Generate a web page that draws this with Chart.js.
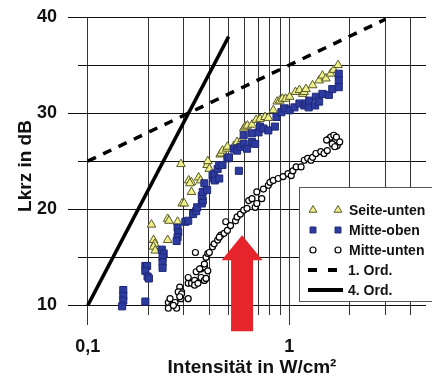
<!DOCTYPE html>
<html>
<head>
<meta charset="utf-8">
<script src="https://cdn.jsdelivr.net/npm/chart.js@4.4.1/dist/chart.umd.min.js"></script>
<style>
  html, body { margin: 0; padding: 0; background: #fff; }
  #wrap { width: 432px; height: 376px; }
</style>
</head>
<body>
<div id="wrap"><canvas id="LkrzChart" width="432" height="376"></canvas></div>
<script>
// axis ranges and ticks
var xMin = 0.0894, xMax = 4.77;
var yMin = 9, yMax = 40;
var xTickValues = [0.1, 0.2, 0.3, 0.4, 0.5, 0.6, 0.7, 0.8, 0.9, 1, 2, 3, 4];
var xTickLabels = ['0,1', '', '', '', '', '', '', '', '', '1', '', '', ''];
var yTickValues = [10, 15, 20, 25, 30, 35, 40];
var yTickLabels = ['10', '', '20', '', '30', '', '40'];

// Seite-unten (triangles)
var seiteUntenX = [0.207, 0.212, 0.215, 0.212, 0.216, 0.249, 0.253, 0.249, 0.279, 0.290, 0.294, 0.301,
    0.317, 0.327, 0.321, 0.327, 0.355, 0.363, 0.391, 0.394, 0.401, 0.454, 0.457, 0.466, 0.489, 0.493,
    0.531, 0.551, 0.583, 0.594, 0.605, 0.62, 0.653, 0.685, 0.716, 0.758, 0.787, 0.833, 0.871, 0.897,
    0.925, 0.959, 1.004, 1.073, 1.123, 1.166, 1.187, 1.210, 1.305, 1.406, 1.461, 1.52, 1.603, 1.663, 1.747];
var seiteUntenY = [18.4, 16.8, 16.4, 16.1, 15.7, 19.0, 18.8, 16.8, 18.7, 24.7, 20.6, 20.6,
    23.0, 22.8, 22.7, 21.8, 23.3, 23.0, 24.6, 25.0, 24.2, 25.7, 25.8, 26.1, 26.3, 26.5,
    26.6, 27.0, 27.3, 28.4, 28.6, 28.7, 28.8, 29.3, 29.4, 29.6, 29.5, 30.3, 31.2, 31.3,
    31.5, 31.5, 31.7, 32.2, 32.4, 32.0, 32.2, 32.5, 32.9, 33.4, 33.9, 33.6, 34.1, 34.5, 35.0];

// Mitte-oben (squares)
var mitteObenX = [0.150, 0.150, 0.150, 0.148, 0.193, 0.193, 0.197, 0.193, 0.198, 0.201, 0.233, 0.238,
    0.235, 0.235, 0.235, 0.279, 0.281, 0.279, 0.276, 0.305, 0.315, 0.333, 0.345, 0.349, 0.368, 0.372,
    0.368, 0.372, 0.391, 0.379, 0.416, 0.424, 0.427, 0.424, 0.441, 0.449, 0.449, 0.466, 0.493, 0.502,
    0.562, 0.531, 0.551, 0.572, 0.594, 0.617, 0.653, 0.677, 0.594, 0.653, 0.704, 0.716, 0.744, 0.787,
    0.848, 0.864, 0.914, 0.949, 1.004, 1.061, 1.123, 1.187, 1.210, 1.248, 1.256, 1.344, 1.355, 1.406,
    1.461, 1.572, 1.634, 1.760, 1.760, 1.760];
var mitteObenY = [11.6, 11.0, 10.5, 9.9, 10.4, 14.1, 14.1, 13.6, 13.0, 12.8, 15.8, 15.4,
    15.0, 14.5, 13.9, 18.1, 17.6, 17.1, 16.7, 18.7, 18.8, 19.5, 19.8, 20.2, 20.6, 20.9,
    21.4, 21.8, 22.0, 22.7, 23.5, 23.2, 23.0, 23.7, 24.2, 24.6, 23.2, 24.6, 25.3, 25.4,
    24.0, 26.3, 26.1, 26.5, 26.8, 26.3, 27.0, 26.8, 27.7, 27.9, 28.0, 28.6, 28.4, 28.2,
    28.6, 29.6, 30.1, 30.5, 30.3, 30.6, 31.0, 30.8, 31.0, 30.6, 31.3, 30.8, 31.7, 31.2,
    32.0, 31.9, 32.5, 34.1, 33.4, 32.7];

// Mitte-unten (open circles)
var mitteUntenX = [0.251, 0.256, 0.261, 0.251, 0.271, 0.276, 0.266, 0.286, 0.292, 0.281, 0.292, 0.290,
    0.286, 0.315, 0.315, 0.315, 0.327, 0.339, 0.339, 0.352, 0.365, 0.379, 0.345, 0.365, 0.379, 0.394,
    0.386, 0.359, 0.342, 0.386, 0.394, 0.379, 0.401, 0.416, 0.424, 0.441, 0.457, 0.449, 0.475, 0.493,
    0.484, 0.511, 0.541, 0.551, 0.572, 0.594, 0.617, 0.629, 0.653, 0.677, 0.690, 0.690, 0.730, 0.744,
    0.787, 0.802, 0.833, 0.881, 0.932, 0.986, 1.023, 1.042, 1.082, 1.144, 1.187, 1.234, 1.281, 1.305,
    1.355, 1.433, 1.487, 1.544, 1.572, 1.603, 1.663, 1.695, 1.728, 1.634, 1.714, 1.779, 1.682, 1.532];
var mitteUntenY = [10.3, 10.7, 10.0, 9.7, 10.3, 9.7, 10.0, 11.9, 11.4, 11.4, 11.2, 10.7,
    10.9, 10.7, 12.3, 12.9, 12.3, 12.6, 12.1, 12.3, 12.9, 12.6, 13.5, 13.8, 14.0, 13.6,
    12.8, 13.8, 15.5, 15.0, 15.4, 14.3, 15.5, 16.1, 16.4, 16.8, 17.3, 17.1, 17.5, 17.8,
    18.7, 18.3, 18.8, 19.2, 19.5, 19.9, 20.1, 20.9, 21.1, 20.2, 20.6, 21.8, 21.1, 22.1,
    22.5, 22.8, 23.0, 23.2, 23.4, 23.7, 23.5, 24.0, 24.4, 24.4, 25.1, 25.3, 25.1, 25.4,
    25.8, 26.0, 25.8, 26.1, 27.3, 27.5, 27.7, 27.2, 26.6, 26.8, 27.5, 27.0, 26.5, 27.2];

// reference lines: 1st order (10 dB/decade), 4th order (40 dB/decade)
var ord1X = [0.1, 3];
var ord1Y = [25, 39.77];
var ord4X = [0.1, 0.5];
var ord4Y = [10, 37.96];

// red arrow tip (data coords)
var arrowAt = [0.583, 17.3];

function toPoints(xs, ys) {
    return xs.map(function (v, i) { return { x: v, y: ys[i] }; });
}

var FONT = "'Liberation Sans', Arial, sans-serif";
var triFill = '#f0f08a', triBorder = '#5a5a2a';
var sqFill = '#2e3b9e', sqBorder = '#1e2878';

function drawMarker(ctx, style, x, y, r) {
    ctx.beginPath();
    if (style === 'triangle') {
        ctx.fillStyle = triFill; ctx.strokeStyle = triBorder; ctx.lineWidth = 1;
        ctx.moveTo(x, y - r);
        ctx.lineTo(x + r * 0.866, y + r / 2);
        ctx.lineTo(x - r * 0.866, y + r / 2);
        ctx.closePath();
    } else if (style === 'rect') {
        ctx.fillStyle = sqFill; ctx.strokeStyle = sqBorder; ctx.lineWidth = 1;
        ctx.rect(x - r * 0.707, y - r * 0.707, r * 1.414, r * 1.414);
    } else {
        ctx.fillStyle = '#fff'; ctx.strokeStyle = '#000'; ctx.lineWidth = 1.2;
        ctx.arc(x, y, r, 0, Math.PI * 2);
    }
    ctx.fill();
    ctx.stroke();
}

// Excel style legend box
var boxLegend = {
    id: 'boxLegend',
    afterDraw: function (chart) {
        var ctx = chart.ctx;
        ctx.save();
        ctx.fillStyle = '#fff';
        ctx.fillRect(299, 187, 140, 114);
        ctx.strokeStyle = '#555';
        ctx.lineWidth = 1;
        ctx.strokeRect(299.5, 187.5, 140, 114);
        var labels = ['Seite-unten', 'Mitte-oben', 'Mitte-unten', '1. Ord.', '4. Ord.'];
        var rowY = [210, 230, 250, 270, 290];
        var styles = ['triangle', 'rect', 'circle'];
        var sizes = [4.5, 4.2, 3];
        for (var i = 0; i < 3; i++) {
            drawMarker(ctx, styles[i], 313, rowY[i], sizes[i]);
            drawMarker(ctx, styles[i], 338, rowY[i], sizes[i]);
        }
        ctx.strokeStyle = '#000';
        ctx.lineWidth = 4;
        ctx.beginPath();
        ctx.moveTo(308, rowY[3]); ctx.lineTo(317, rowY[3]);
        ctx.moveTo(328, rowY[3]); ctx.lineTo(337, rowY[3]);
        ctx.moveTo(308, rowY[4]); ctx.lineTo(343, rowY[4]);
        ctx.stroke();
        ctx.fillStyle = '#111';
        ctx.font = 'bold 14px ' + FONT;
        ctx.textBaseline = 'middle';
        for (var j = 0; j < labels.length; j++) {
            ctx.fillText(labels[j], j < 3 ? 349 : 348, rowY[j] + 1);
        }
        ctx.restore();
    }
};

var redArrow = {
    id: 'redArrow',
    afterDraw: function (chart) {
        var ctx = chart.ctx;
        var tx = chart.scales.x.getPixelForValue(arrowAt[0]);
        var ty = chart.scales.y.getPixelForValue(arrowAt[1]);
        ctx.save();
        ctx.fillStyle = '#e6242b';
        ctx.beginPath();
        ctx.moveTo(tx, ty);
        ctx.lineTo(tx + 20.5, ty + 25);
        ctx.lineTo(tx + 11, ty + 25);
        ctx.lineTo(tx + 11, ty + 96);
        ctx.lineTo(tx - 11, ty + 96);
        ctx.lineTo(tx - 11, ty + 25);
        ctx.lineTo(tx - 20.5, ty + 25);
        ctx.closePath();
        ctx.fill();
        ctx.restore();
    }
};

var ctx = document.getElementById('LkrzChart').getContext('2d');
var lkrzChart = new Chart(ctx, {
    type: 'scatter',
    data: {
        datasets: [{
            label: '4. Ord.',
            data: toPoints(ord4X, ord4Y),
            showLine: true,
            borderColor: '#000',
            borderWidth: 3.5,
            pointRadius: 0
        }, {
            label: '1. Ord.',
            data: toPoints(ord1X, ord1Y),
            showLine: true,
            borderColor: '#000',
            borderWidth: 3.5,
            borderDash: [9, 8],
            pointRadius: 0
        }, {
            label: 'Mitte-oben',
            data: toPoints(mitteObenX, mitteObenY),
            pointStyle: 'rect',
            pointRadius: 5,
            backgroundColor: sqFill,
            borderColor: sqBorder,
            borderWidth: 1
        }, {
            label: 'Seite-unten',
            data: toPoints(seiteUntenX, seiteUntenY),
            pointStyle: 'triangle',
            pointRadius: 5,
            backgroundColor: triFill,
            borderColor: triBorder,
            borderWidth: 1
        }, {
            label: 'Mitte-unten',
            data: toPoints(mitteUntenX, mitteUntenY),
            pointStyle: 'circle',
            pointRadius: 3,
            backgroundColor: '#fff',
            borderColor: '#000',
            borderWidth: 1.2
        }]
    },
    options: {
        responsive: false,
        animation: false,
        layout: { padding: { top: 17, right: 0, bottom: 0, left: 0 } },
        plugins: {
            legend: { display: false },
            tooltip: { enabled: false }
        },
        scales: {
            x: {
                type: 'logarithmic',
                min: xMin,
                max: xMax,
                afterBuildTicks: function (s) {
                    s.ticks = xTickValues.map(function (v) { return { value: v }; });
                },
                afterFit: function (s) { s.height = 61; },
                border: { display: false },
                grid: {
                    color: '#333',
                    lineWidth: 1,
                    tickLength: 10,
                    tickColor: function (c) {
                        return (c.tick && xTickLabels[xTickValues.indexOf(c.tick.value)] !== '') ? '#333' : 'rgba(0,0,0,0)';
                    }
                },
                ticks: {
                    autoSkip: false,
                    maxRotation: 0,
                    padding: 11,
                    color: '#111',
                    font: { family: FONT, size: 18, weight: 'bold' },
                    callback: function (v) { return xTickLabels[xTickValues.indexOf(v)]; }
                },
                title: {
                    display: true,
                    text: 'Intensität in W/cm²',
                    color: '#111',
                    padding: { top: 0, bottom: 0 },
                    font: { family: FONT, size: 19, weight: 'bold', lineHeight: 0.84 }
                }
            },
            y: {
                min: yMin,
                max: yMax,
                afterBuildTicks: function (s) {
                    s.ticks = yTickValues.map(function (v) { return { value: v }; });
                },
                afterFit: function (s) { s.width = 78; },
                border: { display: false },
                grid: {
                    color: '#111',
                    lineWidth: 1,
                    tickLength: 10,
                    tickColor: function (c) {
                        return (c.tick && yTickLabels[yTickValues.indexOf(c.tick.value)] !== '') ? '#111' : 'rgba(0,0,0,0)';
                    }
                },
                ticks: {
                    padding: 11,
                    color: '#111',
                    font: { family: FONT, size: 18, weight: 'bold', lineHeight: 0.5 },
                    callback: function (v) { return yTickLabels[yTickValues.indexOf(v)]; }
                },
                title: {
                    display: true,
                    text: 'Lkrz in dB',
                    color: '#111',
                    padding: { top: 14, bottom: 0 },
                    font: { family: FONT, size: 19, weight: 'bold' }
                }
            }
        }
    },
    plugins: [boxLegend, redArrow]
});
</script>
</body>
</html>
